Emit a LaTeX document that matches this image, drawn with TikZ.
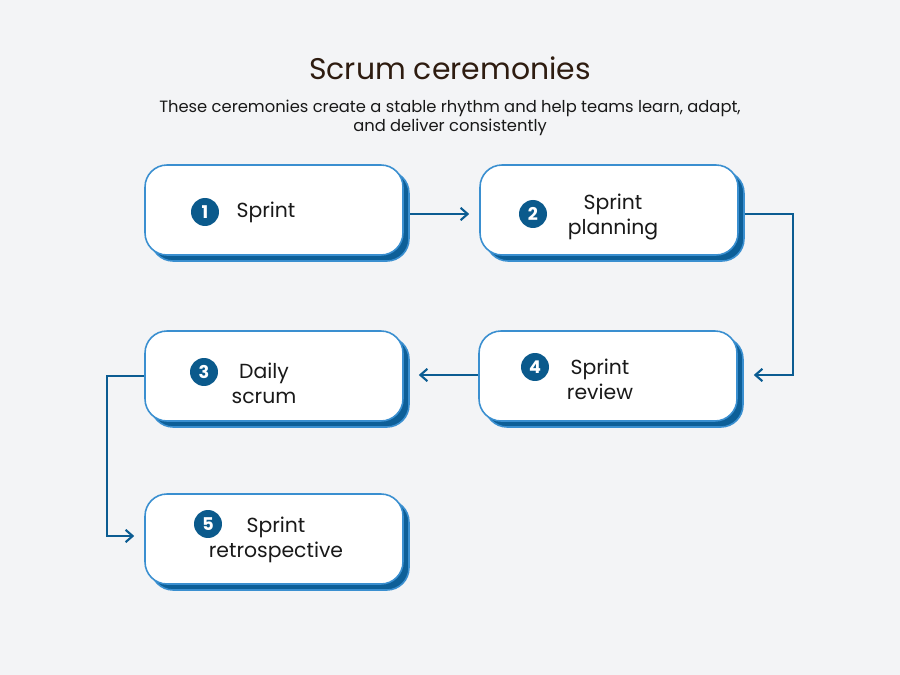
\documentclass[tikz,border=0pt]{standalone}
\usepackage{fontspec}
\setmainfont{Poppins}
\usetikzlibrary{positioning,shadows,arrows.meta}

\definecolor{bgcol}{HTML}{F3F4F6}
\definecolor{boxline}{HTML}{3A8FD0}
\definecolor{shadowblue}{HTML}{0D5F98}
\definecolor{arrowblue}{HTML}{0B5C92}
\definecolor{numblue}{HTML}{0B5A8C}
\definecolor{titlecol}{HTML}{2E1C10}

\begin{document}
\begin{tikzpicture}[x=0.02cm, y=-0.02cm,
    stage/.style={rectangle, draw=boxline, line width=0.9pt, fill=white, rounded corners=0.44cm,
        minimum width=5.16cm, minimum height=1.8cm,
        drop shadow={shadow xshift=0.12cm, shadow yshift=-0.12cm, fill=shadowblue, draw=boxline, opacity=1}},
    num/.style={circle, fill=numblue, text=white, inner sep=0pt, minimum size=0.56cm, font=\bfseries\fontsize{10}{12}\selectfont},
    label/.style={align=center, font=\fontsize{11.6}{14.2}\selectfont, text=black!90},
    arrow/.style={-{Straight Barb[length=4pt, width=7pt]}, draw=arrowblue, line width=1.2pt}]

    % Background
    \fill[bgcol] (0,0) rectangle (900,675);
    \useasboundingbox (0,0) rectangle (900,675);

    % Heading
    \node[font=\fontsize{17}{20}\selectfont, text=titlecol] (title) at (450,68) {Scrum ceremonies};
    \node[align=center, font=\fontsize{9.3}{11.2}\selectfont, text=black!90] (subtitle) at (450,118)
        {These ceremonies create a stable rhythm and help teams learn, adapt,\\and deliver consistently};

    % Ceremonies
    \node[stage] (b1) at (274,210) {};
    \node[stage] (b2) at (609,210) {};
    \node[stage] (b3) at (274,376) {};
    \node[stage] (b4) at (608,376) {};
    \node[stage] (b5) at (274,539) {};

    % Numbers
    \node[num] (n1) at (205,212) {1};
    \node[num] (n2) at (533,214) {2};
    \node[num] (n3) at (204,372) {3};
    \node[num] (n4) at (535,367) {4};
    \node[num] (n5) at (208,524) {5};

    % Labels
    \node[label] (t1) at (266,212) {Sprint};
    \node[label] (t2) at (613,217) {Sprint\\planning};
    \node[label] (t3) at (264,383) {Daily\\scrum};
    \node[label] (t4) at (600,379) {Sprint\\review};
    \node[label] (t5) at (276,540) {Sprint\\retrospective};

    % Flow
    \draw[arrow] ([shift={(6,4)}]b1.east) -- ([shift={(-10,4)}]b2.west);
    \draw[arrow] ([shift={(6,4)}]b2.east) -- ++(48,0) |- ([shift={(16,-1)}]b4.east);
    \draw[arrow] ([shift={(0,-1)}]b4.west) -- ([shift={(15,-1)}]b3.east);
    \draw[arrow] (b3.west) -- ++(-37,0) |- ([shift={(-10,-3)}]b5.west);
\end{tikzpicture}
\end{document}
